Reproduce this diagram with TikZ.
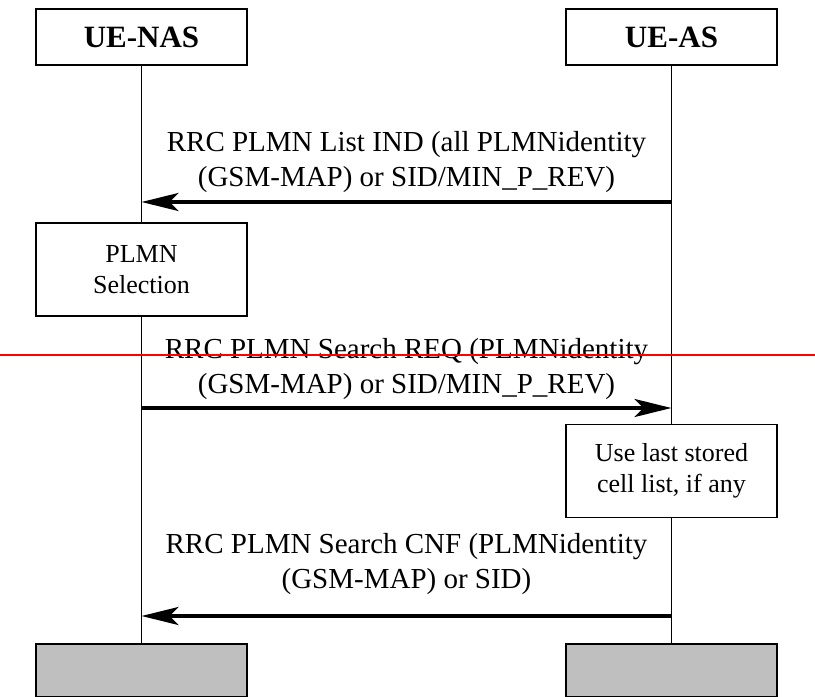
\documentclass[tikz,border=0pt]{standalone}
\usepackage{fontspec}
\setmainfont{Liberation Serif}
\usetikzlibrary{arrows.meta,backgrounds}
\begin{document}
\begin{tikzpicture}[x=1pt,y=-1pt,
  entity/.style={draw, line width=1.5pt, fill=white, minimum width=211pt, minimum height=56pt,
    inner sep=0pt, font=\fontsize{31}{36}\selectfont\bfseries},
  actbox/.style={draw, line width=1.3pt, fill=white, minimum width=211pt, minimum height=93pt,
    inner sep=0pt, align=center, font=\fontsize{26}{31}\selectfont},
  endbox/.style={draw, line width=1.3pt, fill=black!25, minimum width=211pt, minimum height=53pt, inner sep=0pt},
  life/.style={line width=1.3pt},
  msg/.style={line width=4pt, -{Stealth[length=37pt,width=18pt,inset=9pt]}},
  lbl/.style={align=center, inner sep=0pt, font=\fontsize{29}{35}\selectfont}]
\useasboundingbox (0,0) rectangle (815,697);

% entities
\node[entity] (nas) at (141.5,37) {UE-NAS};
\node[entity] (as)  at (671.5,37) {UE-AS};

% action boxes
\node[actbox] (sel) at (141.5,269.5) {PLMN\\Selection};
\node[actbox] (use) at (671.5,471) {Use last stored\\cell list, if any};

% end boxes
\node[endbox] (nasend) at (141.5,670.5) {};
\node[endbox] (asend)  at (671.5,670.5) {};

% lifelines
\begin{scope}[on background layer]
  \draw[life] (nas.south) -- (nasend.north);
  \draw[life] (as.south) -- (asend.north);
\end{scope}

% message end points
\coordinate (m1a) at (671.5,202);
\coordinate (m1b) at (141.5,202);
\coordinate (m2a) at (141.5,408);
\coordinate (m2b) at (671.5,408);
\coordinate (m3a) at (671.5,616);
\coordinate (m3b) at (141.5,616);

% messages (label anchored at the baseline of its last line)
\draw[msg] (m1a) -- (m1b);
\node[lbl, anchor=base] (l1) at (406.5,186) {RRC PLMN List IND (all PLMNidentity\\(GSM-MAP) or SID/MIN\_P\_REV)};

\draw[msg] (m2a) -- (m2b);
\node[lbl, anchor=base] (l2) at (406.5,393) {RRC PLMN Search REQ (PLMNidentity\\(GSM-MAP) or SID/MIN\_P\_REV)};

\draw[msg] (m3a) -- (m3b);
\node[lbl, anchor=base] (l3) at (406.5,588) {RRC PLMN Search CNF (PLMNidentity\\(GSM-MAP) or SID)};

% red rule across the page
\coordinate (rl) at (0,355);
\coordinate (rr) at (815,355);
\draw[red, line width=1.3pt] (rl) -- (rr);
\end{tikzpicture}
\end{document}
